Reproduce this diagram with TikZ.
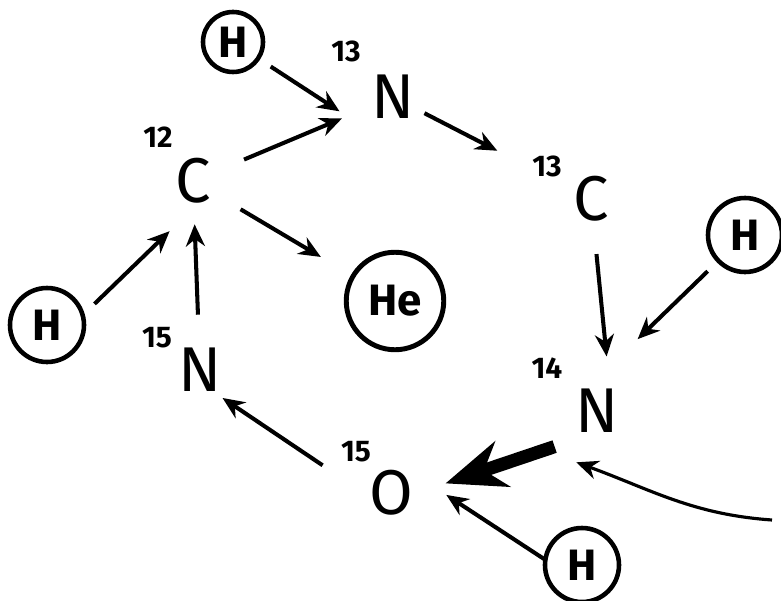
\documentclass[tikz,border=0pt]{standalone}
\usepackage{fontspec}
\setmainfont{Fira Sans}
\usetikzlibrary{arrows.meta}

\begin{document}
\begin{tikzpicture}[
    >=Stealth,
    atom/.style={circle, inner sep=0pt, minimum size=2.2cm,
                 font=\fontsize{36}{40}\selectfont},
    mass/.style={inner sep=0pt, font=\bfseries\fontsize{17}{19}\selectfont},
    hatom/.style={circle, draw, line width=2.6pt, inner sep=0pt,
                  minimum size=1.48cm, outer sep=0.3cm,
                  font=\bfseries\fontsize{25}{27}\selectfont},
    heatom/.style={circle, draw, line width=2.8pt, inner sep=0pt,
                   minimum size=1.95cm, outer sep=0.75cm,
                   font=\bfseries\fontsize{25}{27}\selectfont},
    a/.style={-{Stealth[length=4.4mm, width=3.8mm]}, line width=2.3pt},
    ta/.style={-{Stealth[length=12mm, width=9.5mm]}, line width=7.5pt},
    fa/.style={-{Stealth[length=4.4mm, width=3.8mm]}, line width=1.8pt},
]

\useasboundingbox (0,0) rectangle (15.62,12);

%% ─── nuclei of the cycle ─────────────────────────────────────
\node[atom] (c12) at ( 3.86, 8.38) {C};
\node[atom] (n13) at ( 7.86,10.06) {N};
\node[atom] (c13) at (11.82, 8.02) {C};
\node[atom] (n14) at (11.94, 3.78) {N};
\node[atom] (o15) at ( 7.82, 2.14) {O};
\node[atom] (n15) at ( 4.00, 4.60) {N};

%% ─── mass numbers ────────────────────────────────────────────
\node[mass] (m12)  at ( 3.16, 9.26) {12};
\node[mass] (m13n) at ( 6.92,10.98) {13};
\node[mass] (m13c) at (10.94, 8.68) {13};
\node[mass] (m14)  at (10.94, 4.64) {14};
\node[mass] (m15o) at ( 7.12, 2.96) {15};
\node[mass] (m15n) at ( 3.14, 5.24) {15};

%% ─── protons and helium ──────────────────────────────────────
\node[hatom, minimum size=1.2cm] (htop) at ( 4.66,11.16) {H};
\node[hatom] (hl) at ( 0.94, 5.50) {H};
\node[hatom] (hr) at (14.90, 7.30) {H};
\node[hatom, outer sep=0pt] (hb) at (11.64, 0.70) {H};
\node[heatom] (he) at ( 7.90, 5.98) {He};

\coordinate (in) at (15.44, 1.60);

%% ─── arrows ──────────────────────────────────────────────────

% 12C captures a proton
\draw[a] (hl.24) -- (c12.245);
\draw[a] (c12) -- (n13);
\draw[a] (htop) -- (n13.195);

% 13N decays to 13C
\draw[a, shorten <=-4mm, shorten >=1cm] (n13) -- (c13);

% 13C + H gives 14N
\draw[a] (c13) -- (n14.80);
\draw[a, shorten >=5.8mm] (hr) -- (n14.69);

% 14N + H gives 15O (main step)
\draw[ta] (n14.220) -- (o15.10);
\draw[a] (hb.172) -- (o15.-2);
\draw[fa] (in) to[out=176, in=-20] (n14.248);

% 15O decays to 15N, back to 12C and He
\draw[a, shorten <=3.8mm, shorten >=-4mm] (o15.162) -- (n15.-45);
\draw[a, shorten >=-2.4mm] (n15) -- (c12);
\draw[a] (c12) -- (he);

\end{tikzpicture}
\end{document}
